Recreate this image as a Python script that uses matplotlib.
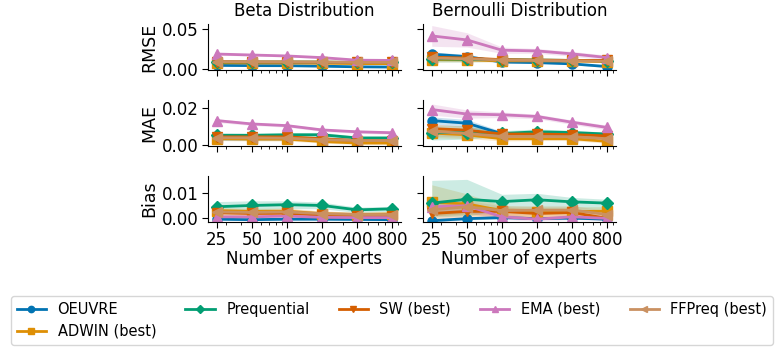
import matplotlib
matplotlib.use("Agg")
import matplotlib.pyplot as plt
import numpy as np
from matplotlib.ticker import NullFormatter, FormatStrFormatter

experts = [25, 50, 100, 200, 400, 800]
methods = ["OEUVRE", "ADWIN (best)", "Prequential", "SW (best)", "EMA (best)", "FFPreq (best)"]
colors = ["#0173b2", "#de8f05", "#029e73", "#d55e00", "#cc78bc", "#ca9161"]
markers = ["o", "s", "D", "v", "^", "<"]
dists = ["Beta Distribution", "Bernoulli Distribution"]
metrics = ["RMSE", "MAE", "Bias"]

# ---- Beta: RMSE ----
beta_rmse = {
    "OEUVRE":        [0.0048, 0.0045, 0.0044, 0.0038, 0.0030, 0.0027],
    "ADWIN (best)":  [0.0080, 0.0078, 0.0078, 0.0075, 0.0070, 0.0070],
    "Prequential":   [0.0092, 0.0090, 0.0090, 0.0089, 0.0085, 0.0085],
    "SW (best)":     [0.0095, 0.0091, 0.0090, 0.0089, 0.0085, 0.0085],
    "EMA (best)":    [0.0190, 0.0178, 0.0166, 0.0145, 0.0113, 0.0110],
    "FFPreq (best)": [0.0095, 0.0092, 0.0090, 0.0088, 0.0085, 0.0085],
}
beta_rmse_err = {
    "OEUVRE":        [0.0010, 0.0008, 0.0008, 0.0007, 0.0006, 0.0006],
    "ADWIN (best)":  [0.0012, 0.0010, 0.0010, 0.0010, 0.0008, 0.0008],
    "Prequential":   [0.0015, 0.0012, 0.0012, 0.0010, 0.0010, 0.0010],
    "SW (best)":     [0.0012, 0.0010, 0.0010, 0.0010, 0.0008, 0.0008],
    "EMA (best)":    [0.0015, 0.0012, 0.0012, 0.0010, 0.0010, 0.0010],
    "FFPreq (best)": [0.0012, 0.0010, 0.0010, 0.0010, 0.0008, 0.0008],
}
# ---- Bernoulli: RMSE ----
bern_rmse = {
    "OEUVRE":        [0.0188, 0.0158, 0.0090, 0.0083, 0.0067, 0.0033],
    "ADWIN (best)":  [0.0120, 0.0118, 0.0105, 0.0105, 0.0103, 0.0095],
    "Prequential":   [0.0130, 0.0125, 0.0120, 0.0115, 0.0110, 0.0105],
    "SW (best)":     [0.0150, 0.0140, 0.0120, 0.0115, 0.0110, 0.0110],
    "EMA (best)":    [0.0417, 0.0367, 0.0238, 0.0229, 0.0192, 0.0146],
    "FFPreq (best)": [0.0140, 0.0130, 0.0115, 0.0110, 0.0105, 0.0100],
}
bern_rmse_err = {
    "OEUVRE":        [0.0030, 0.0025, 0.0015, 0.0012, 0.0012, 0.0012],
    "ADWIN (best)":  [0.0030, 0.0025, 0.0015, 0.0012, 0.0012, 0.0010],
    "Prequential":   [0.0040, 0.0035, 0.0020, 0.0015, 0.0012, 0.0010],
    "SW (best)":     [0.0030, 0.0025, 0.0015, 0.0012, 0.0012, 0.0010],
    "EMA (best)":    [0.0130, 0.0090, 0.0040, 0.0030, 0.0030, 0.0030],
    "FFPreq (best)": [0.0030, 0.0025, 0.0015, 0.0012, 0.0012, 0.0010],
}
# ---- Beta: MAE ----
beta_mae = {
    "OEUVRE":        [0.0035, 0.0035, 0.0035, 0.0030, 0.0025, 0.0022],
    "ADWIN (best)":  [0.0035, 0.0033, 0.0033, 0.0020, 0.0012, 0.0012],
    "Prequential":   [0.0053, 0.0053, 0.0056, 0.0056, 0.0039, 0.0039],
    "SW (best)":     [0.0045, 0.0045, 0.0045, 0.0035, 0.0025, 0.0025],
    "EMA (best)":    [0.0132, 0.0114, 0.0105, 0.0082, 0.0072, 0.0067],
    "FFPreq (best)": [0.0040, 0.0040, 0.0038, 0.0030, 0.0025, 0.0025],
}
beta_mae_err = {
    "OEUVRE":        [0.0008, 0.0008, 0.0008, 0.0007, 0.0006, 0.0006],
    "ADWIN (best)":  [0.0010, 0.0010, 0.0010, 0.0008, 0.0008, 0.0008],
    "Prequential":   [0.0015, 0.0012, 0.0012, 0.0012, 0.0010, 0.0010],
    "SW (best)":     [0.0010, 0.0010, 0.0010, 0.0008, 0.0008, 0.0008],
    "EMA (best)":    [0.0010, 0.0008, 0.0008, 0.0008, 0.0008, 0.0008],
    "FFPreq (best)": [0.0010, 0.0010, 0.0010, 0.0008, 0.0008, 0.0008],
}
# ---- Bernoulli: MAE ----
bern_mae = {
    "OEUVRE":        [0.0132, 0.0118, 0.0062, 0.0060, 0.0058, 0.0055],
    "ADWIN (best)":  [0.0065, 0.0056, 0.0035, 0.0035, 0.0035, 0.0021],
    "Prequential":   [0.0068, 0.0068, 0.0063, 0.0072, 0.0068, 0.0060],
    "SW (best)":     [0.0089, 0.0081, 0.0060, 0.0060, 0.0057, 0.0050],
    "EMA (best)":    [0.0191, 0.0167, 0.0163, 0.0154, 0.0123, 0.0095],
    "FFPreq (best)": [0.0074, 0.0063, 0.0047, 0.0047, 0.0046, 0.0035],
}
bern_mae_err = {
    "OEUVRE":        [0.0020, 0.0020, 0.0012, 0.0010, 0.0010, 0.0010],
    "ADWIN (best)":  [0.0025, 0.0020, 0.0012, 0.0010, 0.0010, 0.0010],
    "Prequential":   [0.0040, 0.0035, 0.0015, 0.0015, 0.0012, 0.0010],
    "SW (best)":     [0.0025, 0.0020, 0.0012, 0.0010, 0.0010, 0.0010],
    "EMA (best)":    [0.0030, 0.0022, 0.0015, 0.0012, 0.0012, 0.0012],
    "FFPreq (best)": [0.0025, 0.0020, 0.0012, 0.0010, 0.0010, 0.0010],
}
# ---- Beta: Bias ----
beta_bias = {
    "OEUVRE":        [-0.0003, -0.0005, -0.0003, -0.0003, -0.0004, -0.0005],
    "ADWIN (best)":  [0.0030, 0.0027, 0.0028, 0.0018, 0.0015, 0.0017],
    "Prequential":   [0.0045, 0.0050, 0.0053, 0.0050, 0.0033, 0.0037],
    "SW (best)":     [0.0022, 0.0019, 0.0020, 0.0012, 0.0010, 0.0010],
    "EMA (best)":    [0.0006, 0.0006, 0.0009, 0.0004, 0.0003, 0.0003],
    "FFPreq (best)": [0.0025, 0.0023, 0.0025, 0.0018, 0.0015, 0.0015],
}
beta_bias_err = {
    "OEUVRE":        [0.0004, 0.0004, 0.0004, 0.0004, 0.0004, 0.0004],
    "ADWIN (best)":  [0.0012, 0.0012, 0.0012, 0.0010, 0.0010, 0.0010],
    "Prequential":   [0.0020, 0.0018, 0.0015, 0.0013, 0.0010, 0.0010],
    "SW (best)":     [0.0012, 0.0012, 0.0012, 0.0010, 0.0010, 0.0010],
    "EMA (best)":    [0.0006, 0.0006, 0.0006, 0.0005, 0.0005, 0.0005],
    "FFPreq (best)": [0.0012, 0.0012, 0.0012, 0.0010, 0.0010, 0.0010],
}
# ---- Bernoulli: Bias ----
bern_bias = {
    "OEUVRE":        [-0.0009, -0.0001, 0.0003, -0.0001, 0.0001, -0.0003],
    "ADWIN (best)":  [0.0062, 0.0056, 0.0030, 0.0026, 0.0026, 0.0028],
    "Prequential":   [0.0059, 0.0074, 0.0065, 0.0072, 0.0064, 0.0059],
    "SW (best)":     [0.0019, 0.0027, 0.0027, 0.0019, 0.0023, 0.0000],
    "EMA (best)":    [0.0045, 0.0049, 0.0006, -0.0003, 0.0006, 0.0000],
    "FFPreq (best)": [0.0033, 0.0045, 0.0030, 0.0032, 0.0032, 0.0015],
}
bern_bias_lo = {
    "OEUVRE":        [-0.0014, -0.0006, -0.0002, -0.0005, -0.0003, -0.0007],
    "ADWIN (best)":  [0.0010, 0.0015, 0.0005, 0.0005, 0.0005, 0.0010],
    "Prequential":   [0.0005, 0.0010, 0.0030, 0.0035, 0.0035, 0.0035],
    "SW (best)":     [-0.0005, 0.0005, 0.0010, 0.0005, 0.0008, -0.0010],
    "EMA (best)":    [0.0020, 0.0025, -0.0005, -0.0010, -0.0005, -0.0008],
    "FFPreq (best)": [0.0010, 0.0020, 0.0012, 0.0015, 0.0015, 0.0000],
}
bern_bias_hi = {
    "OEUVRE":        [-0.0004, 0.0004, 0.0008, 0.0003, 0.0005, 0.0001],
    "ADWIN (best)":  [0.0130, 0.0095, 0.0050, 0.0045, 0.0045, 0.0045],
    "Prequential":   [0.0147, 0.0151, 0.0093, 0.0097, 0.0081, 0.0074],
    "SW (best)":     [0.0040, 0.0045, 0.0045, 0.0035, 0.0038, 0.0012],
    "EMA (best)":    [0.0070, 0.0072, 0.0018, 0.0005, 0.0017, 0.0008],
    "FFPreq (best)": [0.0060, 0.0070, 0.0048, 0.0050, 0.0050, 0.0030],
}

def sym(mean, err):
    lo = {k: list(np.array(mean[k]) - np.array(err[k])) for k in mean}
    hi = {k: list(np.array(mean[k]) + np.array(err[k])) for k in mean}
    return lo, hi

panels = {
    ("RMSE", 0): (beta_rmse, *sym(beta_rmse, beta_rmse_err)),
    ("RMSE", 1): (bern_rmse, *sym(bern_rmse, bern_rmse_err)),
    ("MAE", 0): (beta_mae, *sym(beta_mae, beta_mae_err)),
    ("MAE", 1): (bern_mae, *sym(bern_mae, bern_mae_err)),
    ("Bias", 0): (beta_bias, *sym(beta_bias, beta_bias_err)),
    ("Bias", 1): (bern_bias, bern_bias_lo, bern_bias_hi),
}
ylims = {"RMSE": (-0.001, 0.0566), "MAE": (-0.0004, 0.0242), "Bias": (-0.0014, 0.0164)}
yticks = {"RMSE": [0.0, 0.05], "MAE": [0.0, 0.02], "Bias": [0.0, 0.01]}

fig, axes = plt.subplots(3, 2, figsize=(7.84, 3.5), dpi=100, sharex=True, sharey="row")
fig.subplots_adjust(left=0.2653, right=0.7857, top=0.9314, bottom=0.3657,
                    wspace=0.114, hspace=0.652)

handles = []
for r, metric in enumerate(metrics):
    for c in range(2):
        ax = axes[r, c]
        mean, lo, hi = panels[(metric, c)]
        for m, col, mk in zip(methods, colors, markers):
            ax.fill_between(experts, lo[m], hi[m], color=col, alpha=0.2, linewidth=0)
            h, = ax.plot(experts, mean[m], color=col, marker=mk, markersize=6.5,
                         linewidth=2, label=m)
            if r == 0 and c == 0:
                handles.append(h)
        ax.set_xscale("log")
        ax.set_xticks(experts)
        ax.set_xticklabels([str(v) for v in experts])
        ax.xaxis.set_minor_formatter(NullFormatter())
        ax.set_ylim(*ylims[metric])
        ax.set_yticks(yticks[metric])
        ax.yaxis.set_major_formatter(FormatStrFormatter("%.2f"))
        ax.spines["top"].set_visible(False)
        ax.spines["right"].set_visible(False)
        ax.tick_params(axis="both", which="major", labelsize=12, length=4, pad=2.5)
        ax.tick_params(axis="x", which="minor", length=2.5)
        if c == 0:
            ax.set_ylabel(metric, fontsize=12.5, labelpad=3)
        else:
            ax.tick_params(axis="y", labelleft=False)
        if r == 0:
            ax.set_title(dists[c], fontsize=12)
        if r == 2:
            ax.set_xlabel("Number of experts", fontsize=12, labelpad=1)

fig.legend(handles, methods, loc="lower center", bbox_to_anchor=(0.5, -0.006),
           ncol=5, fontsize=10.5, markerscale=0.7, frameon=True)
fig.savefig("out.png", dpi=100)
